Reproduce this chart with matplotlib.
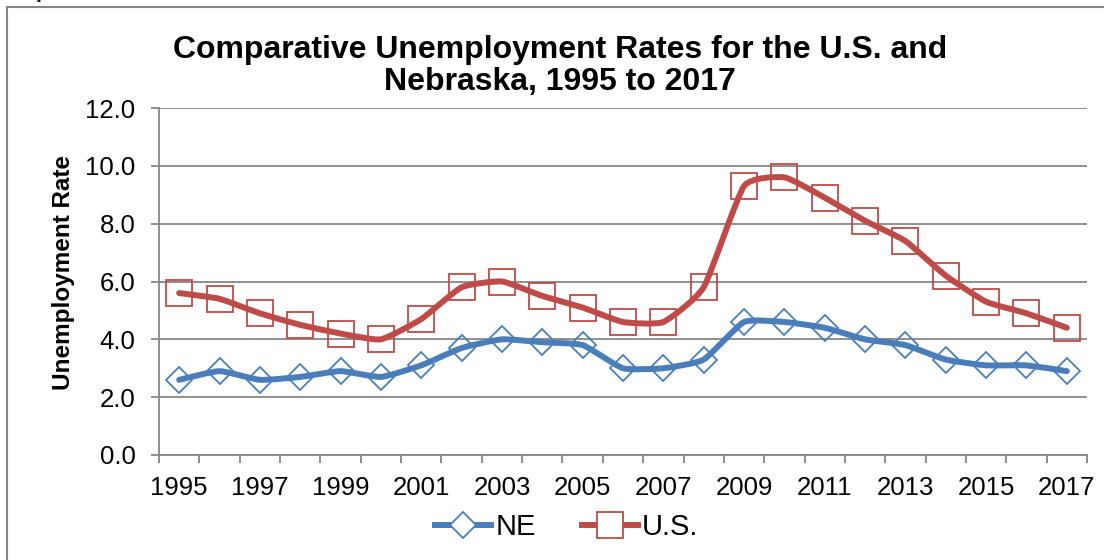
import matplotlib
matplotlib.use("Agg")
import matplotlib.pyplot as plt
from matplotlib.path import Path
from matplotlib.patches import PathPatch, Rectangle
from matplotlib.lines import Line2D
import numpy as np

plt.rcParams.update({
    'font.family': ['Liberation Sans', 'DejaVu Sans'],
    'font.size': 14,
})

# Data
years = list(range(1995, 2018))
ne_rate = [2.6, 2.9, 2.6, 2.7, 2.9, 2.7, 3.1, 3.7, 4.0, 3.9, 3.8, 3.0,
           3.0, 3.3, 4.6, 4.6, 4.4, 4.0, 3.8, 3.3, 3.1, 3.1, 2.9]
us_rate = [5.6, 5.4, 4.9, 4.5, 4.2, 4.0, 4.7, 5.8, 6.0, 5.5, 5.1, 4.6,
           4.6, 5.8, 9.3, 9.6, 8.9, 8.1, 7.4, 6.2, 5.3, 4.9, 4.4]
series_names = ["NE", "U.S."]
y_ticks = [0.0, 2.0, 4.0, 6.0, 8.0, 10.0, 12.0]

BLUE = '#4A7EBB'
RED = '#BE4B48'
GRID = '#868686'
SMOOTH = 1 / 12   # tangent factor for the smoothed lines


def smooth_path(x, y):
    """Excel-style smoothed line: cubic Bezier segments through every point."""
    x = np.asarray(x, float)
    y = np.asarray(y, float)
    n = len(x)
    verts = [(x[0], y[0])]
    codes = [Path.MOVETO]
    for i in range(n - 1):
        i0 = max(i - 1, 0)
        i3 = min(i + 2, n - 1)
        c1 = (x[i] + (x[i + 1] - x[i0]) * SMOOTH,
              y[i] + (y[i + 1] - y[i0]) * SMOOTH)
        c2 = (x[i + 1] - (x[i3] - x[i]) * SMOOTH,
              y[i + 1] - (y[i3] - y[i]) * SMOOTH)
        verts += [c1, c2, (x[i + 1], y[i + 1])]
        codes += [Path.CURVE4] * 3
    return Path(verts, codes)


fig = plt.figure(figsize=(11.04, 5.6), dpi=100)
ax = fig.add_axes([159 / 1104, 105 / 560, 928 / 1104, 347 / 560])

styles = [(ne_rate, BLUE, 'D', 13.7), (us_rate, RED, 's', 19)]
for vals, col, mk, ms in styles:
    ax.add_patch(PathPatch(smooth_path(years, vals), facecolor='none',
                           edgecolor=col, lw=4.3, capstyle='round',
                           joinstyle='round', zorder=3))
    ax.plot(years, vals, linestyle='none', marker=mk, markersize=ms,
            markerfacecolor='none', markeredgecolor=col,
            markeredgewidth=1.3, zorder=4)

ax.set_xlim(years[0] - 0.5, years[-1] + 0.5)
ax.set_ylim(0, 12)
ax.set_yticks(y_ticks)
ax.set_yticklabels([f"{v:.1f}" for v in y_ticks])
ax.yaxis.grid(True, color=GRID, lw=1.3)
ax.set_axisbelow(True)

# tick marks between categories, labels on every other year
ax.set_xticks(np.arange(years[0] - 0.5, years[-1] + 1, 1.0))
ax.set_xticklabels([])
ax.set_xticks(years[::2], minor=True)
ax.set_xticklabels([str(y) for y in years[::2]], minor=True)
ax.tick_params(axis='x', which='minor', length=0, pad=15, labelsize=18.5)
ax.tick_params(axis='x', which='major', length=6, width=1.3, color=GRID)
ax.tick_params(axis='y', length=6, width=1.3, color=GRID, pad=11,
               labelsize=18.5)

for side in ['top', 'right']:
    ax.spines[side].set_visible(False)
for side in ['left', 'bottom']:
    ax.spines[side].set_color(GRID)
    ax.spines[side].set_linewidth(1.3)

ax.set_ylabel("Unemployment Rate", fontsize=17.5, fontweight='bold')
ax.yaxis.set_label_coords(-0.09, 0.525)

fig.text(560 / 1104, 1 - 66 / 560,
         "Comparative Unemployment Rates for the U.S. and\nNebraska, 1995 to 2017",
         ha='center', va='center', fontsize=23, fontweight='bold',
         linespacing=1.05)

handles = [Line2D([], [], color=c, lw=4.3, marker=m, markersize=s,
                  markerfacecolor='white', markeredgecolor=c,
                  markeredgewidth=1.3)
           for (_, c, m, s) in styles]
fig.legend(handles, series_names, loc='center', ncol=2,
           bbox_to_anchor=(567 / 1104, 1 - 527 / 560), frameon=False,
           fontsize=21, handlelength=1.9, handletextpad=0.15,
           columnspacing=1.6, numpoints=1)

# outer chart-area border and the cut-off caption above it
fig.add_artist(Rectangle((7 / 1104, -0.05), 1.1, 1.05 - 7 / 560,
                         transform=fig.transFigure, fill=False,
                         edgecolor=GRID, lw=1.5))
fig.text(0.0, 1 + 1.5 / 560, "Graph", va='baseline', ha='left',
         fontsize=15, fontweight='bold')

fig.savefig("out.png", dpi=100)
